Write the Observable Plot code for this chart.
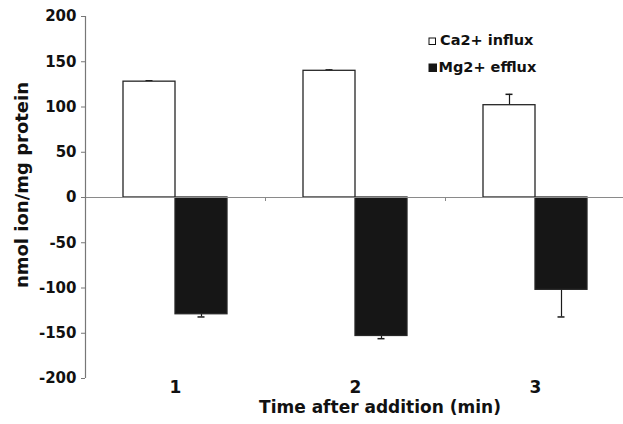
<!DOCTYPE html>
<html>
<head>
<meta charset="utf-8">
<script src="https://cdn.jsdelivr.net/npm/d3@7"></script>
<script src="https://cdn.jsdelivr.net/npm/@observablehq/plot@0.6"></script>
<style>
  html, body { margin: 0; padding: 0; background: #fff; }
  #chart { width: 623px; height: 424px; }
</style>
</head>
<body>
<div id="chart"></div>
<script>
// ---- data ----
const times = ["1", "2", "3"];
const seriesNames = ["Ca2+ influx", "Mg2+ efflux"];
const caMeans = [128, 140, 102];
const caErrs = [1, 1, 12];
const mgMeans = [-129, -153, -102];
const mgErrs = [3, 3, 30];
const yTicks = [-200, -150, -100, -50, 0, 50, 100, 150, 200];
const xTitle = "Time after addition (min)";
const yTitle = "nmol ion/mg protein";

const rows = times.flatMap((t, i) => [
  {time: t, series: seriesNames[0], value: caMeans[i], end: caMeans[i] + caErrs[i]},
  {time: t, series: seriesNames[1], value: mgMeans[i], end: mgMeans[i] - mgErrs[i]}
]);

const FONT = "'DejaVu Sans', 'Liberation Sans', Arial, sans-serif";

const chart = Plot.plot({
  width: 623,
  height: 424,
  marginTop: 16,
  marginBottom: 46,
  marginLeft: 85,
  marginRight: -2,
  style: {fontFamily: FONT, fontWeight: "bold", color: "#111", background: "#fff", overflow: "visible"},
  fx: {domain: times, padding: 0},
  x: {domain: seriesNames, paddingInner: 0, paddingOuter: 0.73, axis: null},
  y: {domain: [yTicks[0], yTicks[yTicks.length - 1]], axis: null},
  color: {domain: seriesNames, range: ["#ffffff", "#161616"]},
  marks: [
    Plot.ruleX(rows, {fx: "time", x: "series", y1: "value", y2: "end", stroke: "#1a1a1a", strokeWidth: 1.2}),
    Plot.tickY(rows, {fx: "time", x: "series", y: "end", stroke: "#1a1a1a", strokeWidth: 1.5, insetLeft: 22.5, insetRight: 22.5}),
    Plot.barY(rows, {fx: "time", x: "series", y: "value", fill: "series", stroke: "#262626", strokeWidth: 1.3}),
    Plot.ruleY([0], {stroke: "#8a8a8a", strokeWidth: 1.2}),
    Plot.ruleX(times, {fx: d => d, x: () => seriesNames[0], y1: () => 0, y2: () => 0, insetBottom: -4, dx: -64, stroke: "#888"}),
    // vertical y-axis line at the left edge of the first facet
    Plot.ruleX([times[0]], {fx: d => d, x: () => seriesNames[0], y1: () => yTicks[0], y2: () => yTicks[yTicks.length - 1], dx: -64, stroke: "#777", strokeWidth: 1.2}),
    Plot.axisY({ticks: yTicks, tickSize: 4, tickPadding: 5, stroke: "#777", fontSize: 15, label: null, tickFormat: d => String(d)}),
    Plot.axisFx({anchor: "bottom", tickSize: 0, tickPadding: 2, fontSize: 17, label: null})
  ]
});

document.getElementById("chart").appendChild(chart);

// axis titles and legend
const svg = d3.select(chart);
svg.append("text")
  .attr("x", 380).attr("y", 413)
  .attr("text-anchor", "middle")
  .attr("font-family", FONT).attr("font-weight", "bold").attr("font-size", 17)
  .attr("fill", "#111")
  .text(xTitle);
svg.append("text")
  .attr("transform", "translate(28,185) rotate(-90)")
  .attr("text-anchor", "middle")
  .attr("font-family", FONT).attr("font-weight", "bold").attr("font-size", 18)
  .attr("fill", "#111")
  .text(yTitle);

const legend = svg.append("g")
  .attr("font-family", FONT).attr("font-weight", "bold").attr("font-size", 14.5)
  .attr("fill", "#111").attr("text-anchor", "start");
legend.append("rect").attr("x", 429).attr("y", 38).attr("width", 6.5).attr("height", 6.5)
  .attr("fill", "#fff").attr("stroke", "#111").attr("stroke-width", 1);
legend.append("text").attr("x", 440).attr("y", 44.5).attr("text-anchor", "start").text(seriesNames[0]);
legend.append("rect").attr("x", 428.5).attr("y", 63.5).attr("width", 8.5).attr("height", 8.5)
  .attr("fill", "#161616");
legend.append("text").attr("x", 438.5).attr("y", 72).attr("text-anchor", "start").text(seriesNames[1]);
</script>
</body>
</html>
